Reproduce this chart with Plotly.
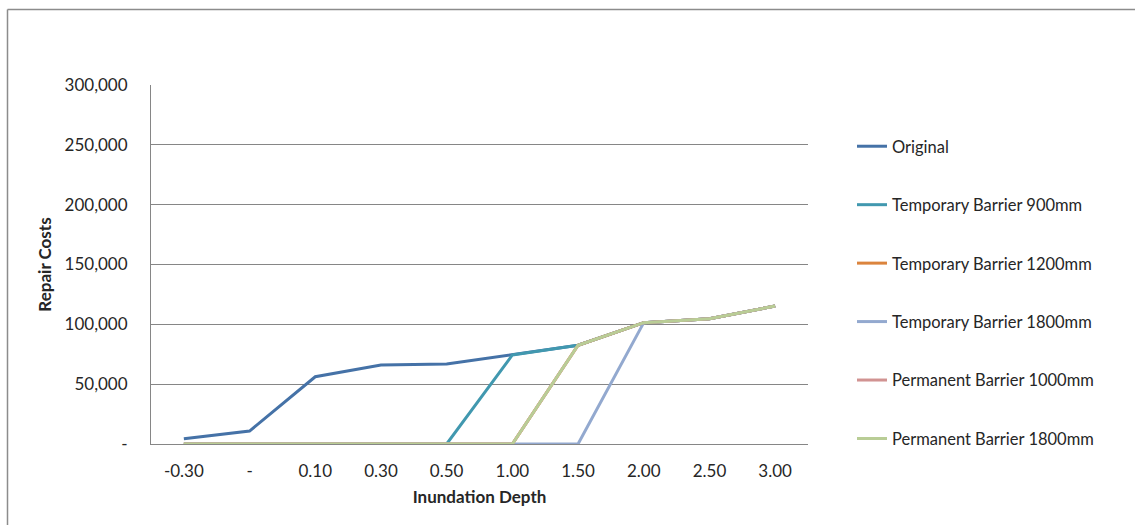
import plotly.graph_objects as go

categories = ["-0.30", "-", "0.10", "0.30", "0.50", "1.00", "1.50", "2.00", "2.50", "3.00"]
original = [4400, 10800, 56200, 66000, 66800, 74400, 82500, 101400, 104700, 115300]
temp_900 = [0, 0, 0, 0, 0, 74400, 82500, 101400, 104700, 115300]
temp_1200 = [0, 0, 0, 0, 0, 0, 82500, 101400, 104700, 115300]
temp_1800 = [0, 0, 0, 0, 0, 0, 0, 101400, 104700, 115300]
perm_1000 = [0, 0, 0, 0, 0, 0, 82500, 101400, 104700, 115300]
perm_1800 = [0, 0, 0, 0, 0, 0, 82500, 101400, 104700, 115300]

y_tickvals = [0, 50000, 100000, 150000, 200000, 250000, 300000]
y_ticktext = ["-", "50,000", "100,000", "150,000", "200,000", "250,000", "300,000"]

series = [
    ("Original", original, "#4572A7"),
    ("Temporary Barrier 900mm", temp_900, "#4198AF"),
    ("Temporary Barrier 1200mm", temp_1200, "#DB843D"),
    ("Temporary Barrier 1800mm", temp_1800, "#93A9CF"),
    ("Permanent Barrier 1000mm", perm_1000, "#D19392"),
    ("Permanent Barrier 1800mm", perm_1800, "#B9CD96"),
]

FONT = "Lato"
TXT = "#262626"
fig = go.Figure()
for i, (name, vals, col) in enumerate(series):
    fig.add_trace(go.Scatter(
        x=categories, y=vals, name=name, mode="lines",
        line=dict(color=col, width=3),
        legendgroup=f"g{i}", hoverinfo="skip",
    ))

W, H = 1135, 525
L, R, T, B = 151, 808, 85, 444

def px(x):
    return (x - L) / (R - L)

def py(y):
    return (B - y) / (B - T)

fig.update_layout(
    width=W, height=H,
    margin=dict(l=L, r=W - R, t=T, b=H - B, pad=0),
    paper_bgcolor="white", plot_bgcolor="white",
    font=dict(family=FONT, size=17, color=TXT),
    showlegend=True,
    legend=dict(
        x=px(852), y=py(129), xanchor="left", yanchor="top",
        tracegroupgap=34, itemwidth=30,
        font=dict(family=FONT, size=16.5, color=TXT),
        bgcolor="rgba(0,0,0,0)",
    ),
    xaxis=dict(
        type="category", categoryorder="array", categoryarray=categories,
        showgrid=False, showline=True, linecolor="#868686", linewidth=1,
        ticks="", tickfont=dict(family=FONT, size=17, color=TXT),
        ticklabelstandoff=12,
        title=dict(text="<b>Inundation Depth</b>", font=dict(family=FONT, size=17, color=TXT), standoff=10),
        range=[-0.5, len(categories) - 0.5], fixedrange=True,
    ),
    yaxis=dict(
        range=[0, 300000], tickvals=y_tickvals, ticktext=y_ticktext,
        showgrid=True, gridcolor="#868686", gridwidth=1,
        showline=True, linecolor="#868686", linewidth=1,
        zeroline=False, ticks="", ticklen=0,
        ticklabelstandoff=19,
        tickfont=dict(family=FONT, size=17, color=TXT),
        title=dict(text="<b>Repair Costs</b>", font=dict(family=FONT, size=17, color=TXT), standoff=8),
        fixedrange=True,
    ),
    shapes=[
        dict(type="line", xref="paper", yref="paper",
             x0=px(7.5), x1=px(1140), y0=py(9.5), y1=py(9.5),
             line=dict(color="#8c8c8c", width=1.5)),
        dict(type="line", xref="paper", yref="paper",
             x0=px(7.5), x1=px(7.5), y0=py(9.5), y1=py(530),
             line=dict(color="#8c8c8c", width=1.5)),
    ],
)

fig.write_html("out.html", config={"displayModeBar": False})
